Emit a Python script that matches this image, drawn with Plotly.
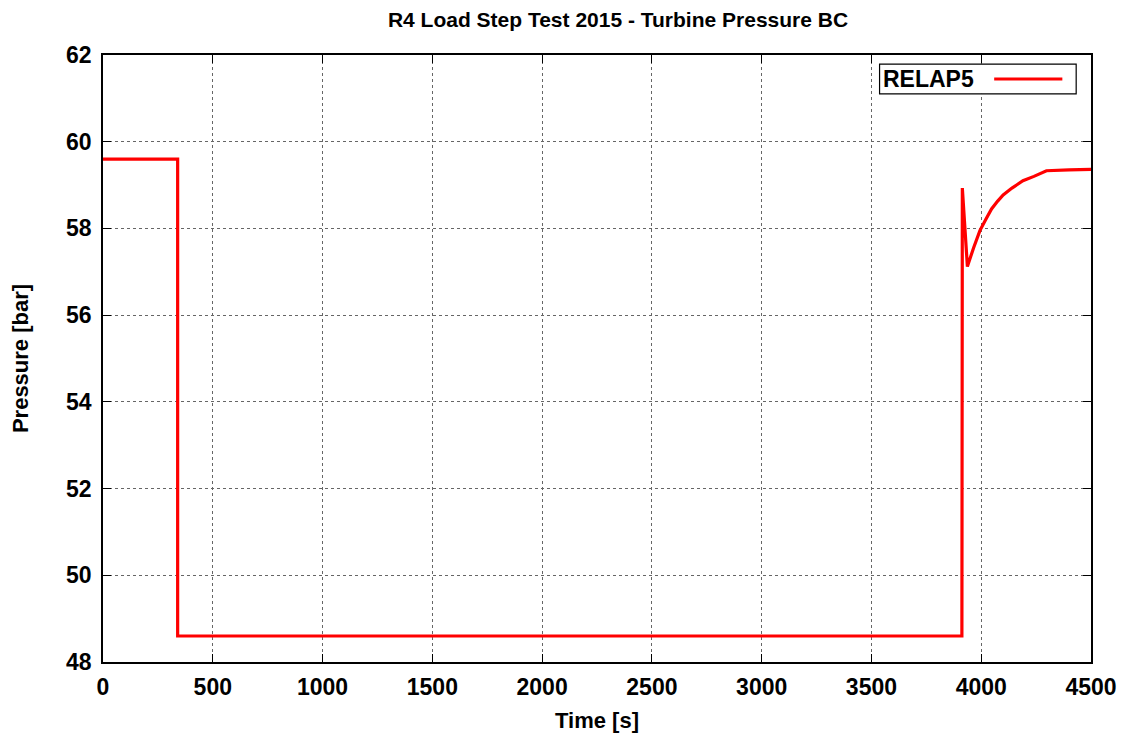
import plotly.graph_objects as go

# RELAP5 turbine pressure boundary condition
time_s = [0, 340, 340, 3912, 3914, 3937, 3965, 3994, 4020, 4047, 4075, 4100,
          4140, 4190, 4240, 4297, 4400, 4500]
pressure_bar = [59.6, 59.6, 48.6, 48.6, 58.93, 57.12, 57.55, 57.95, 58.2, 58.45,
                58.63, 58.77, 58.93, 59.1, 59.2, 59.33, 59.35, 59.36]

FONT = "Liberation Sans, Arial, sans-serif"
BOLD = dict(family=FONT, color="black", weight="bold")

fig = go.Figure()
fig.add_trace(go.Scatter(
    x=time_s, y=pressure_bar, mode="lines", name="RELAP5",
    line=dict(color="#ff0000", width=3.2), showlegend=False,
))

axis_common = dict(
    showline=True, linecolor="black", linewidth=1.5, mirror="ticks",
    ticks="inside", ticklen=8, tickcolor="black", tickwidth=1,
    showgrid=True, gridcolor="#666666", griddash="dot", gridwidth=1,
    zeroline=False, automargin=False, tickfont=dict(size=23, **BOLD),
)

fig.update_xaxes(range=[0, 4500], dtick=500, ticklabelstandoff=4,
                 title=dict(text="Time [s]", font=dict(size=22, **BOLD), standoff=14),
                 **axis_common)
fig.update_yaxes(range=[48, 62], dtick=2, ticklabelstandoff=5,
                 title=dict(text="Pressure [bar]", font=dict(size=22, **BOLD), standoff=32),
                 **axis_common)

# gnuplot style key: box, label, then line sample
fig.add_shape(type="rect", xref="paper", yref="paper", x0=0.786, x1=0.985, y0=0.936, y1=0.985,
              line=dict(color="black", width=1.2), fillcolor="white")
fig.add_annotation(xref="paper", yref="paper", x=0.884, y=0.9605, text="RELAP5", showarrow=False,
                   xanchor="right", yanchor="middle", font=dict(size=23, **BOLD))
fig.add_shape(type="line", xref="paper", yref="paper", x0=0.902, x1=0.971, y0=0.9605, y1=0.9605,
              line=dict(color="#ff0000", width=3.2))

fig.update_layout(
    width=1112, height=725,
    margin=dict(l=95, r=29, t=47, b=71, autoexpand=False),
    paper_bgcolor="white", plot_bgcolor="white",
    font=dict(family=FONT, color="black", size=20),
    title=dict(text="R4 Load Step Test 2015 - Turbine Pressure BC", x=610 / 1112, xanchor="center",
               y=1 - 12 / 725, yanchor="middle", font=dict(size=21, **BOLD)),
)

fig.write_html("out.html")
